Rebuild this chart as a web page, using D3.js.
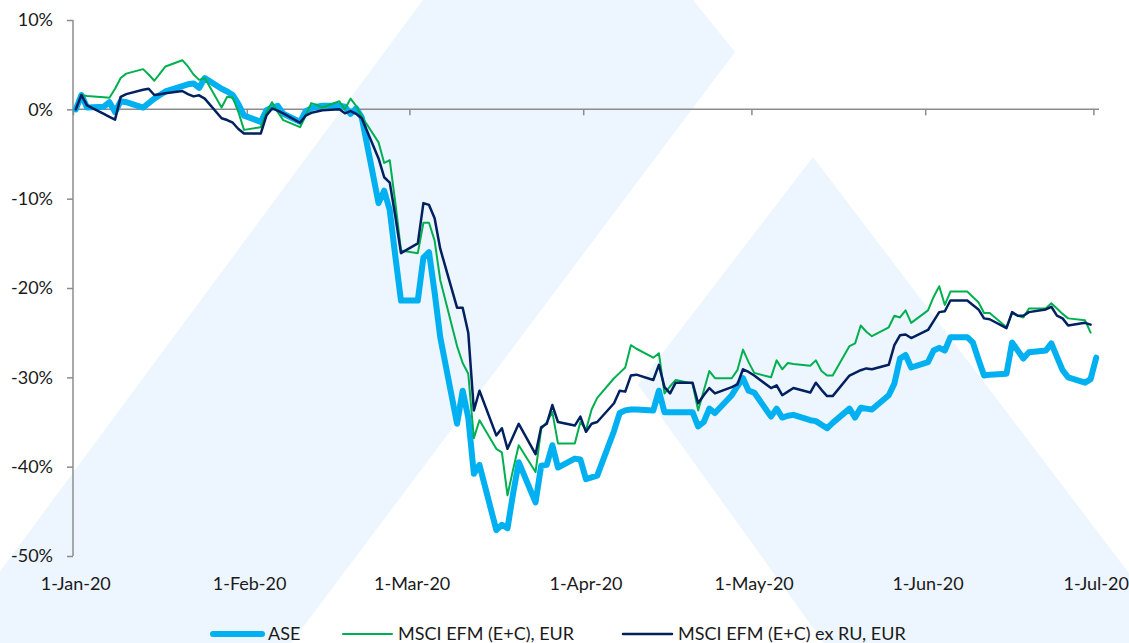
<!DOCTYPE html>
<html>
<head>
<meta charset="utf-8">
<script src="https://cdn.jsdelivr.net/npm/d3@7"></script>
<style>
  body { margin: 0; background: #fff; }
  svg { display: block; font-family: Lato, "Open Sans", sans-serif; }
</style>
</head>
<body>
<svg id="chart" width="1129" height="643"></svg>
<script>
// 1: DATA (trading days, % change since 1-Jan-20)
const dates = [
  "2020-01-01","2020-01-02","2020-01-03","2020-01-06","2020-01-07","2020-01-08","2020-01-09","2020-01-10",
  "2020-01-13","2020-01-14","2020-01-15","2020-01-16","2020-01-17","2020-01-20","2020-01-21","2020-01-22",
  "2020-01-23","2020-01-24","2020-01-27","2020-01-28","2020-01-29","2020-01-30","2020-01-31",
  "2020-02-03","2020-02-04","2020-02-05","2020-02-06","2020-02-07","2020-02-10","2020-02-11","2020-02-12",
  "2020-02-13","2020-02-14","2020-02-17","2020-02-18","2020-02-19","2020-02-20","2020-02-21","2020-02-24",
  "2020-02-25","2020-02-26","2020-02-27","2020-02-28",
  "2020-03-02","2020-03-03","2020-03-04","2020-03-05","2020-03-06","2020-03-09","2020-03-10","2020-03-11",
  "2020-03-12","2020-03-13","2020-03-16","2020-03-17","2020-03-18","2020-03-19","2020-03-20","2020-03-23",
  "2020-03-24","2020-03-25","2020-03-26","2020-03-27","2020-03-30","2020-03-31",
  "2020-04-01","2020-04-02","2020-04-03","2020-04-06","2020-04-07","2020-04-08","2020-04-09","2020-04-10",
  "2020-04-13","2020-04-14","2020-04-15","2020-04-16","2020-04-17","2020-04-20","2020-04-21","2020-04-22",
  "2020-04-23","2020-04-24","2020-04-27","2020-04-28","2020-04-29","2020-04-30",
  "2020-05-01","2020-05-04","2020-05-05","2020-05-06","2020-05-07","2020-05-08","2020-05-11","2020-05-12",
  "2020-05-13","2020-05-14","2020-05-15","2020-05-18","2020-05-19","2020-05-20","2020-05-21","2020-05-22",
  "2020-05-25","2020-05-26","2020-05-27","2020-05-28","2020-05-29",
  "2020-06-01","2020-06-02","2020-06-03","2020-06-04","2020-06-05","2020-06-08","2020-06-09","2020-06-10",
  "2020-06-11","2020-06-12","2020-06-15","2020-06-16","2020-06-17","2020-06-18","2020-06-19","2020-06-22",
  "2020-06-23","2020-06-24","2020-06-25","2020-06-26","2020-06-29","2020-06-30",
  "2020-07-01"
];

const ase = [
  0, 1.6, 0.2, 0.3, 0.8, -0.3, 0.9, 0.8, 0.2, 0.7, 1.2, 1.6, 2.0, 2.6, 2.8, 2.9, 2.4, 3.5, 2.3, 2.0, 1.6, 0.6, -0.7,
  -1.4, -0.1, 0.2, 0.4, -0.5, -1.4, -0.2, 0.1, 0.3, 0.4, 0.4, 0.3, -0.5, 0.1, -0.9, -10.5, -9.1, -11.3, -16.5, -21.4,
  -21.4, -16.6, -16.0, -20.5, -25.5, -35.2, -31.5, -34.5, -40.8, -39.8, -47.1, -46.5, -46.9, -43.0, -39.5, -44.0,
  -39.9, -39.8, -37.6, -40.1, -39.1, -39.2,
  -41.4, -41.2, -41.0, -36.0, -34.0, -33.7, -33.6, -33.6, -33.7, -31.5, -33.9, -33.9, -33.9, -33.9, -35.5, -35.0,
  -33.5, -34.0, -32.0, -31.0, -30.1, -31.5,
  -31.7, -34.4, -33.5, -34.5, -34.3, -34.2, -34.8, -34.9, -35.3, -35.7, -35.1, -33.5, -34.5, -33.4, -33.5, -33.6,
  -32.0, -30.7, -27.9, -27.5, -28.9,
  -28.3, -27.0, -26.7, -27.0, -25.5, -25.5, -26.1, -28.0, -29.8, -29.7, -29.6, -26.1, -27.0, -27.9, -27.2, -27.0,
  -26.2, -27.7, -29.2, -30.0, -30.6, -30.2,
  -27.8
];

const msciEfm = [
  0, 1.6, 1.5, 1.35, 1.3, 2.3, 3.5, 4.0, 4.5, 3.9, 3.2, 4.0, 4.8, 5.5, 4.8, 3.9, 3.3, 3.5, 0.2, 1.4, 1.3, -0.3, -2.3,
  -2.0, -0.3, 0.8, -0.3, -1.2, -2.0, -0.7, 0.7, 0.5, 0.2, 0.9, 0.0, 1.2, 0.4, -0.8, -3.7, -6.0, -5.7, -10.5, -15.8,
  -16.1, -12.7, -12.7, -14.7, -19.1, -26.5, -28.4, -29.6, -36.8, -34.8, -38.0, -38.4, -43.2, -40.3, -37.6, -40.6,
  -35.8, -35.0, -33.9, -37.4, -37.4, -35.0,
  -35.9, -33.6, -32.3, -30.1, -29.5, -28.9, -26.4, -26.8, -27.8, -27.3, -31.8, -31.0, -30.3, -30.7, -33.7, -31.5,
  -29.3, -30.1, -30.1, -29.2, -26.9, -28.3,
  -29.5, -30.0, -28.1, -29.1, -28.4, -28.5, -28.7, -28.1, -29.3, -29.8, -29.8, -26.5, -26.2, -24.2, -24.9, -25.4,
  -24.4, -23.1, -23.3, -22.5, -23.9,
  -22.5, -21.0, -19.8, -21.9, -20.4, -20.4, -21.0, -21.6, -22.8, -22.8, -24.4, -22.8, -23.1, -23.3, -22.3, -22.3,
  -21.7, -22.3, -22.9, -23.4, -23.6, -25.0,
  null
];

const msciExRu = [
  0, 1.6, 0.45, -0.5, -0.85, -1.15, 1.4, 1.7, 2.2, 2.3, 1.6, 1.7, 1.8, 2.05, 1.7, 1.45, 1.57, 1.2, -1.0, -1.2, -1.5, -2.2, -2.7,
  -2.7, -0.7, 0.1, -0.15, -0.45, -1.5, -0.7, -0.4, -0.25, -0.1, 0.0, -0.45, -0.2, -0.5, -1.0, -5.5, -7.6, -8.2, -12.0, -16.1,
  -15.0, -10.5, -10.7, -12.2, -15.6, -22.2, -22.2, -25.0, -33.7, -31.5, -36.5, -35.7, -38.0, -36.6, -35.2, -38.6,
  -35.6, -35.2, -33.1, -35.0, -35.4, -34.4,
  -36.1, -35.2, -35.0, -32.9, -31.5, -31.6, -29.8, -29.7, -30.3, -28.6, -31.1, -31.8, -30.6, -30.6, -32.9, -32.0,
  -31.2, -31.8, -31.1, -30.8, -29.1, -29.4,
  -29.8, -31.2, -30.9, -32.0, -31.6, -31.2, -31.7, -30.6, -31.4, -32.1, -32.1, -29.8, -29.5, -29.2, -29.0, -29.1,
  -28.6, -26.4, -25.3, -25.2, -25.6,
  -24.7, -23.7, -22.7, -22.6, -21.4, -21.4, -21.9, -22.4, -23.4, -23.5, -24.5, -22.7, -23.1, -23.1, -22.7, -22.4,
  -22.1, -23.1, -23.4, -24.2, -23.9, -24.1,
  null
];

const seriesNames = ["ASE", "MSCI EFM (E+C), EUR", "MSCI EFM (E+C) ex RU, EUR"];
const yTicks = [10, 0, -10, -20, -30, -40, -50];
const monthTicks = ["2020-01-01","2020-02-01","2020-03-01","2020-04-01","2020-05-01","2020-06-01","2020-07-01"];

// 2: SETUP
const svg = d3.select("#chart");
const parseDate = d3.timeParse("%Y-%m-%d");
const parsedDates = dates.map(parseDate);

const series = [
  { name: seriesNames[0], values: ase, color: "#00B0F0", width: 6 },
  { name: seriesNames[1], values: msciEfm, color: "#00B050", width: 2 },
  { name: seriesNames[2], values: msciExRu, color: "#002060", width: 2.5 }
];

// background watermark shapes
const bg = svg.append("g").attr("fill", "#EDF5FE");
bg.append("polygon").attr("points", "423,0 693,0 735,52 291,643 -53,643");
bg.append("polygon").attr("points", "813,157 1182,643 824,643 638,385");

// 3: SCALES
const xScale = d3.scaleTime()
    .domain([parseDate("2020-01-01"), parseDate("2020-07-02")])
    .range([73, 1099]);

const yScale = d3.scaleLinear()
    .domain([-50, 10])
    .range([556, 20]);

// points sit in the middle of each day slot
const xMid = d => xScale(d3.timeHour.offset(d, 12));

// 4: AXES
const axisColor = "#8C8C8C";

const yAxis = svg.append("g")
    .attr("transform", "translate(73,0)")
    .call(d3.axisLeft(yScale).tickValues(yTicks).tickSize(6).tickPadding(14)
        .tickFormat(d => d + "%"));
yAxis.select(".domain").attr("stroke", axisColor).attr("stroke-width", 1.5)
    .attr("d", `M0,${yScale(10)}V${yScale(-50)}`);
yAxis.selectAll(".tick line").attr("stroke", axisColor).attr("stroke-width", 1.5);
yAxis.selectAll(".tick text")
    .attr("fill", "#1a1a1a")
    .style("font-size", "18px")
    .style("font-family", "Lato, sans-serif");

const xAxis = svg.append("g")
    .attr("transform", `translate(0,${yScale(0)})`)
    .call(d3.axisBottom(xScale).tickValues(monthTicks.map(parseDate)).tickSize(6).tickFormat(""));
xAxis.select(".domain").attr("stroke", axisColor).attr("stroke-width", 1.5)
    .attr("d", `M73,0H1099`);
xAxis.selectAll(".tick line").attr("stroke", axisColor).attr("stroke-width", 1.5);

// date labels along the bottom
svg.append("g").selectAll("text")
    .data(monthTicks.map(parseDate))
    .join("text")
    .attr("x", d => xMid(d))
    .attr("y", 590)
    .attr("text-anchor", "middle")
    .attr("fill", "#1a1a1a")
    .style("font-size", "18px")
    .text(d3.timeFormat("%-d-%b-%y"));

// 5: LINES
series.forEach(s => {
    const line = d3.line()
        .defined((d, i) => s.values[i] !== null)
        .x(d => xMid(d))
        .y((d, i) => yScale(s.values[i]));

    svg.append("path")
        .datum(parsedDates)
        .attr("fill", "none")
        .attr("stroke", s.color)
        .attr("stroke-width", s.width)
        .attr("stroke-linejoin", "round")
        .attr("stroke-linecap", "round")
        .attr("d", line);
});

// 6: LEGEND
const legendX = [210, 340, 620];
series.forEach((s, i) => {
    svg.append("line")
        .attr("x1", legendX[i] + 3)
        .attr("x2", legendX[i] + 52)
        .attr("y1", 634)
        .attr("y2", 634)
        .attr("stroke", s.color)
        .attr("stroke-width", s.width)
        .attr("stroke-linecap", "round");

    svg.append("text")
        .attr("x", legendX[i] + 58)
        .attr("y", 640)
        .attr("fill", "#1a1a1a")
        .style("font-size", "18px")
        .text(s.name);
});
</script>
</body>
</html>
